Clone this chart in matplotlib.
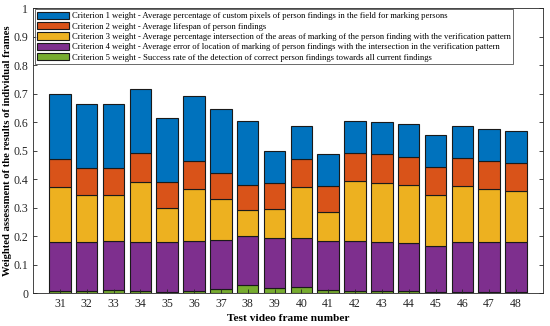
import matplotlib.pyplot as plt
import numpy as np

plt.rcParams['font.family'] = ['Liberation Serif', 'DejaVu Serif']

# Frame numbers and cumulative heights
frames = np.arange(31, 49)
top_c5 = [0.008, 0.007, 0.011, 0.009, 0.005, 0.008, 0.014, 0.027, 0.019,
          0.020, 0.012, 0.007, 0.006, 0.006, 0.005, 0.005, 0.005, 0.005]
top_c4 = [0.179, 0.181, 0.184, 0.181, 0.178, 0.182, 0.186, 0.202, 0.193,
          0.193, 0.184, 0.182, 0.180, 0.175, 0.166, 0.180, 0.180, 0.180]
top_c3 = [0.372, 0.343, 0.345, 0.391, 0.297, 0.367, 0.330, 0.293, 0.295,
          0.374, 0.286, 0.393, 0.388, 0.381, 0.345, 0.376, 0.367, 0.359]
top_c2 = [0.470, 0.439, 0.439, 0.490, 0.389, 0.463, 0.421, 0.379, 0.385,
          0.471, 0.375, 0.491, 0.488, 0.479, 0.442, 0.474, 0.463, 0.456]
top_c1 = [0.697, 0.665, 0.665, 0.716, 0.616, 0.690, 0.647, 0.605, 0.498,
          0.585, 0.489, 0.605, 0.601, 0.593, 0.555, 0.586, 0.576, 0.569]

labels = [
    'Criterion 1 weight - Average percentage of custom pixels of person findings in the field for marking persons',
    'Criterion 2 weight - Average lifespan of person findings',
    'Criterion 3 weight - Average percentage intersection of the areas of marking of the person finding with the verification pattern',
    'Criterion 4 weight - Average error of location of marking of person findings with the intersection in the verification pattern',
    'Criterion 5 weight - Success rate of the detection of correct person findings towards all current findings',
]
colors = ['#0072BD', '#D95319', '#EDB120', '#7E2F8E', '#77AC30']

c5 = np.array(top_c5)
c4 = np.array(top_c4) - np.array(top_c5)
c3 = np.array(top_c3) - np.array(top_c4)
c2 = np.array(top_c2) - np.array(top_c3)
c1 = np.array(top_c1) - np.array(top_c2)

fig = plt.figure(figsize=(5.5, 3.26), dpi=100)
ax = fig.add_axes([0.06, 0.101, 0.927, 0.874])

segs = [c5, c4, c3, c2, c1]
cols = [colors[4], colors[3], colors[2], colors[1], colors[0]]
bottom = np.zeros(len(frames))
handles = []
for vals, col in zip(segs, cols):
    h = ax.bar(frames, vals, 0.8, bottom=bottom, color=col,
               edgecolor='#1a1a1a', linewidth=0.8)
    handles.append(h)
    bottom = bottom + vals

ax.set_xlim(30, 49)
ax.set_ylim(0, 1)
ax.set_xticks(frames)
ax.set_yticks(np.arange(0, 1.01, 0.1))
ax.set_yticklabels(['0', '0.1', '0.2', '0.3', '0.4', '0.5', '0.6', '0.7', '0.8', '0.9', '1'])
ax.tick_params(direction='in', top=False, right=True, labelsize=8.5,
               length=3, width=0.6, colors='#262626')
for s in ax.spines.values():
    s.set_color('#262626')
    s.set_linewidth(0.6)

ax.set_xlabel('Test video frame number', fontsize=8.2, fontweight='bold', labelpad=3)
ax.set_ylabel('Weighted assessment of the results of individual frames',
              fontsize=7.7, fontweight='bold', labelpad=1)

leg = ax.legend(handles[::-1], labels, loc='upper left', bbox_to_anchor=(0.003, 0.997),
                fontsize=6.2, handlelength=3.7, handleheight=0.9, labelspacing=0.22,
                borderpad=0.3, handletextpad=0.3, borderaxespad=0.0,
                frameon=True, fancybox=False, edgecolor='#262626')
leg.get_frame().set_linewidth(0.6)

fig.savefig('out.png', dpi=100)
